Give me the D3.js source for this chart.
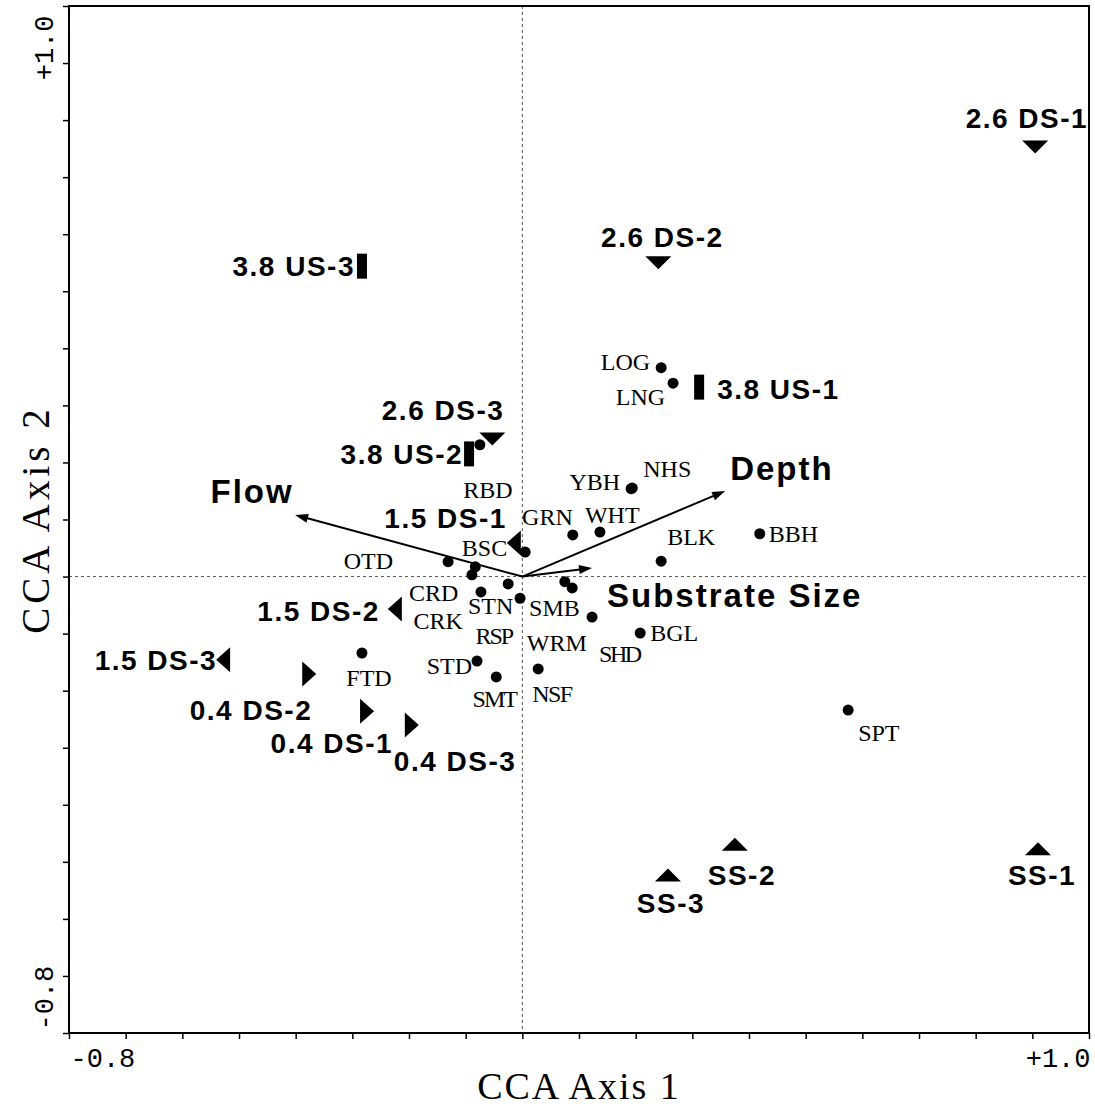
<!DOCTYPE html>
<html>
<head>
<meta charset="utf-8">
<script src="https://cdn.jsdelivr.net/npm/d3@7"></script>
<style>
  body { margin: 0; background: #fff; }
  svg { display: block; }
</style>
</head>
<body>
<svg id="chart" width="1095" height="1109"></svg>
<script>
// ---- CCA biplot scores ----
// Species scores (one point has no printed code)
const speciesCodes = ["LOG","LNG","RBD","YBH","NHS","GRN","WHT","BLK","BBH","OTD","BSC","CRD","CRK","STN","RSP","SMB","WRM","","SHD","BGL","STD","SMT","NSF","FTD","SPT"];
const speciesAxis1 = [0.245,0.266,-0.075,0.192,0.194,0.089,0.137,0.245,0.419,-0.131,0.005,-0.083,-0.089,-0.073,-0.025,-0.004,0.075,0.088,0.123,0.208,-0.080,-0.046,0.028,-0.283,0.575];
const speciesAxis2 = [0.366,0.339,0.231,0.154,0.155,0.073,0.078,0.027,0.075,0.026,0.043,0.017,0.003,-0.027,-0.013,-0.038,-0.009,-0.020,-0.071,-0.099,-0.148,-0.176,-0.162,-0.134,-0.234];

// Site scores
const siteNames = ["2.6 DS-1","2.6 DS-2","2.6 DS-3","3.8 US-1","3.8 US-2","3.8 US-3","1.5 DS-1","1.5 DS-2","1.5 DS-3","0.4 DS-1","0.4 DS-2","0.4 DS-3","SS-1","SS-2","SS-3"];
const siteAxis1 = [0.905,0.240,-0.053,0.312,-0.094,-0.283,-0.015,-0.225,-0.528,-0.274,-0.376,-0.195,0.910,0.375,0.257];
const siteAxis2 = [0.753,0.550,0.241,0.332,0.215,0.544,0.059,-0.057,-0.146,-0.236,-0.171,-0.260,-0.477,-0.469,-0.523];

// Environmental variable biplot arrows
const envNames = ["Flow","Depth","Substrate Size"];
const envAxis1 = [-0.401,0.358,0.123];
const envAxis2 = [0.108,0.150,0.015];

// Axis extent and labelled ticks
const axisDomain = [-0.8, 1.0];
const tickStep = 0.1;
const endTickLabels = ["-0.8", "+1.0"];
const axisTitles = ["CCA Axis 1", "CCA Axis 2"];

// ---- layout ----
const svg = d3.select("#chart");
const frame = { left: 69, right: 1089, top: 6, bottom: 1033 };

const x = d3.scaleLinear().domain(axisDomain).range([frame.left, frame.right]);
const y = d3.scaleLinear().domain(axisDomain).range([frame.bottom, frame.top]);

// label placement: [dx, dy, anchor, letterSpacing]
const speciesLabelPos = {
  LOG: [-11, 2, "end"], LNG: [-8, 22, "end"], RBD: [8, 53, "middle"],
  YBH: [-11, 1, "end"], NHS: [11, -11, "start"], GRN: [0, -10, "end"],
  WHT: [-15, -9, "start"], BLK: [6, -16, "start"], BBH: [9, 8, "start"],
  OTD: [-55, 7, "end"], BSC: [-18, 4, "end"], CRD: [-17, 34, "end"],
  CRK: [-9, 54, "end"], STN: [-13, 22, "start"], RSP: [4, 60, "end", -2],
  SMB: [9, 18, "start"], WRM: [-8, 69, "middle"], SHD: [7, 45, "start", -2.5],
  BGL: [10, 8, "start"], STD: [-5, 13, "end"], SMT: [-2, 30, "middle", -2],
  NSF: [-6, 33, "start", -1.5], FTD: [7, 33, "middle"], SPT: [10, 31, "start"]
};
const siteLabelPos = {
  "2.6 DS-1": [53, -19, "end"], "2.6 DS-2": [4, -16, "middle"], "2.6 DS-3": [12, -19, "end"],
  "3.8 US-1": [18, 12, "start"], "3.8 US-2": [-6, 10, "end"], "3.8 US-3": [-7, 10, "end"],
  "1.5 DS-1": [-7, -15, "end"], "1.5 DS-2": [-15, 12, "end"], "1.5 DS-3": [-6, 10, "end"],
  "0.4 DS-1": [26, 42, "end"], "0.4 DS-2": [3, 46, "end"], "0.4 DS-3": [-18, 46, "start"],
  "SS-1": [4, 36, "middle"], "SS-2": [7, 41, "middle"], "SS-3": [3, 38, "middle"]
};
const envLabelPos = {
  "Flow": [-43, -12, "middle"], "Depth": [5, -11, "start"], "Substrate Size": [15, 39, "start"]
};

const sansBold = "'Liberation Sans', Arial, Helvetica, sans-serif";
const serif = "'Liberation Serif', 'Times New Roman', Times, serif";
const mono = "'Liberation Mono', 'Courier New', Courier, monospace";

// ---- zero reference lines ----
svg.append("line")
  .attr("x1", x(0)).attr("x2", x(0)).attr("y1", frame.top).attr("y2", frame.bottom)
  .attr("stroke", "#555").attr("stroke-width", 1).attr("stroke-dasharray", "3,3");
svg.append("line")
  .attr("x1", frame.left).attr("x2", frame.right).attr("y1", y(0)).attr("y2", y(0))
  .attr("stroke", "#555").attr("stroke-width", 1).attr("stroke-dasharray", "3,3");

// ---- axes ----
const tickValues = d3.range(Math.round((axisDomain[1] - axisDomain[0]) / tickStep) + 1)
  .map(i => +(axisDomain[0] + i * tickStep).toFixed(2));
const endLabel = v => v === axisDomain[0] ? endTickLabels[0] : (v === axisDomain[1] ? endTickLabels[1] : "");

const xAxis = svg.append("g")
  .attr("transform", `translate(0,${frame.bottom})`)
  .call(d3.axisBottom(x).tickValues(tickValues).tickFormat(endLabel).tickSize(6).tickSizeOuter(0));
const yAxis = svg.append("g")
  .attr("transform", `translate(${frame.left},0)`)
  .call(d3.axisLeft(y).tickValues(tickValues).tickFormat(endLabel).tickSize(6).tickSizeOuter(0));

[xAxis, yAxis].forEach(g => {
  g.select(".domain").remove();
  g.selectAll(".tick line").attr("stroke", "#000").attr("stroke-width", 1.5);
  g.selectAll(".tick text").attr("font-family", mono).attr("font-size", 27).attr("fill", "#000");
});
xAxis.selectAll(".tick text")
  .attr("y", 34).attr("dy", null)
  .attr("text-anchor", d => d === axisDomain[0] ? "start" : "end")
  .attr("dx", 1);
yAxis.selectAll(".tick text")
  .attr("x", null).attr("dy", null)
  .attr("text-anchor", d => d === axisDomain[0] ? "start" : "end")
  .attr("transform", d => `translate(-16,${d === axisDomain[0] ? -3 : 9}) rotate(-90)`);

// plot frame
svg.append("rect")
  .attr("x", frame.left).attr("y", frame.top)
  .attr("width", frame.right - frame.left).attr("height", frame.bottom - frame.top)
  .attr("fill", "none").attr("stroke", "#000").attr("stroke-width", 2);

// axis titles
svg.append("text")
  .attr("x", (frame.left + frame.right) / 2).attr("y", 1099)
  .attr("text-anchor", "middle")
  .attr("font-family", serif).attr("font-size", 38).attr("letter-spacing", 2)
  .text(axisTitles[0]);
svg.append("text")
  .attr("transform", `translate(49,${(frame.top + frame.bottom) / 2}) rotate(-90)`)
  .attr("text-anchor", "middle")
  .attr("font-family", serif).attr("font-size", 39).attr("letter-spacing", 4)
  .text(axisTitles[1]);

// ---- environmental arrows ----
const envData = envNames.map((n, i) => ({ name: n, a1: envAxis1[i], a2: envAxis2[i] }));
const env = svg.append("g");
envData.forEach(d => {
  const x0 = x(0), y0 = y(0), x1 = x(d.a1), y1 = y(d.a2);
  const ang = Math.atan2(y1 - y0, x1 - x0);
  const len = 13, half = 4.5;
  const bx = x1 - len * Math.cos(ang), by = y1 - len * Math.sin(ang);
  env.append("line")
    .attr("x1", x0).attr("y1", y0).attr("x2", bx + 3 * Math.cos(ang)).attr("y2", by + 3 * Math.sin(ang))
    .attr("stroke", "#000").attr("stroke-width", 2);
  env.append("path")
    .attr("d", `M${x1},${y1}L${bx - half * Math.sin(ang)},${by + half * Math.cos(ang)}L${bx + half * Math.sin(ang)},${by - half * Math.cos(ang)}Z`)
    .attr("fill", "#000");
  const p = envLabelPos[d.name];
  env.append("text")
    .attr("x", x1 + p[0]).attr("y", y1 + p[1])
    .attr("text-anchor", p[2])
    .attr("font-family", sansBold).attr("font-weight", "bold")
    .attr("font-size", 33).attr("letter-spacing", 2)
    .text(d.name);
});

// ---- species points ----
const speciesData = speciesCodes.map((c, i) => ({ code: c, a1: speciesAxis1[i], a2: speciesAxis2[i] }));
const sp = svg.append("g");
sp.selectAll("circle").data(speciesData).join("circle")
  .attr("cx", d => x(d.a1)).attr("cy", d => y(d.a2)).attr("r", 5.5).attr("fill", "#000");
sp.selectAll("text").data(speciesData.filter(d => d.code)).join("text")
  .attr("x", d => x(d.a1) + speciesLabelPos[d.code][0])
  .attr("y", d => y(d.a2) + speciesLabelPos[d.code][1])
  .attr("text-anchor", d => speciesLabelPos[d.code][2])
  .attr("letter-spacing", d => speciesLabelPos[d.code][3] || 0)
  .attr("font-family", serif).attr("font-size", 24).attr("fill", "#000")
  .text(d => d.code);

// ---- site markers ----
const shapeFor = name => {
  if (name.startsWith("2.6")) return "down";
  if (name.startsWith("3.8")) return "rect";
  if (name.startsWith("1.5")) return "left";
  if (name.startsWith("0.4")) return "right";
  return "up";
};
const shapePath = {
  down: "M-13,-6.5L13,-6.5L0,6.5Z",
  up: "M-13,6.5L13,6.5L0,-6.5Z",
  left: "M7,-12.5L7,12.5L-7,0Z",
  right: "M-7,-12.5L-7,12.5L7,0Z",
  rect: "M-5,-12.5L5,-12.5L5,12.5L-5,12.5Z"
};
const siteData = siteNames.map((n, i) => ({ name: n, a1: siteAxis1[i], a2: siteAxis2[i] }));
const st = svg.append("g");
st.selectAll("path").data(siteData).join("path")
  .attr("transform", d => `translate(${x(d.a1)},${y(d.a2)})`)
  .attr("d", d => shapePath[shapeFor(d.name)])
  .attr("fill", "#000");
st.selectAll("text").data(siteData).join("text")
  .attr("x", d => x(d.a1) + siteLabelPos[d.name][0])
  .attr("y", d => y(d.a2) + siteLabelPos[d.name][1])
  .attr("text-anchor", d => siteLabelPos[d.name][2])
  .attr("font-family", sansBold).attr("font-weight", "bold")
  .attr("font-size", 28).attr("letter-spacing", 1.5).attr("fill", "#000")
  .text(d => d.name);
</script>
</body>
</html>
